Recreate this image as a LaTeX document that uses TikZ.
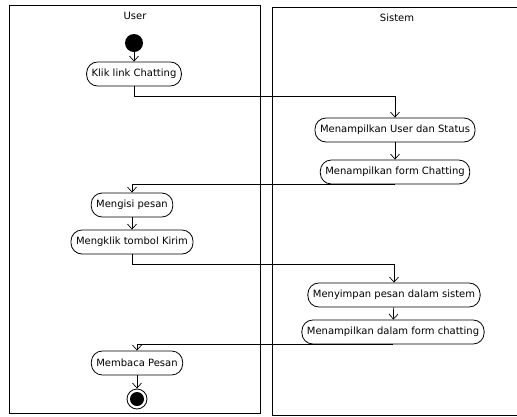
\documentclass[tikz,border=0pt]{standalone}
\usepackage{fontspec}
\setsansfont{DejaVu Sans}
\usetikzlibrary{arrows.meta}

\begin{document}
\begin{tikzpicture}[x=1pt,y=-1pt,
    act/.style={draw,line width=.8pt,rounded corners=11pt,minimum height=24pt,inner xsep=5pt,
      font=\sffamily\fontsize{10}{12}\selectfont},
    lanetitle/.style={font=\sffamily\fontsize{10}{12}\selectfont},
    flow/.style={-{Straight Barb[length=5pt,width=9pt]},line width=.7pt},
    lane/.style={line width=1pt},
    start/.style={circle,fill=black,minimum size=18pt,inner sep=0pt},
    stop/.style={circle,draw,line width=.8pt,minimum size=20pt,inner sep=0pt}]
  \useasboundingbox (0,0) rectangle (517,416);
  % swimlanes
  \draw[lane] (9,5) rectangle (260,413);
  \draw[lane] (517,7) -- (272,7) -- (272,415) -- (517,415);
  \node[lanetitle] (user) at (135,16) {User};
  \node[lanetitle] (sistem) at (397,18) {Sistem};

  % User
  \node[start] (mulai) at (134,43) {};
  \node[act] (klik) at (134,74) {Klik link Chatting};
  \node[act] (isi) at (132,205) {Mengisi pesan};
  \node[act] (kirim) at (132,242) {Mengklik tombol Kirim};
  \node[act] (baca) at (137,363) {Membaca Pesan};
  \node[stop] (selesai) at (137,399) {};
  \fill (selesai.center) circle (7pt);

  % Sistem
  \node[act] (tampil) at (395,130) {Menampilkan User dan Status};
  \node[act] (form) at (395,172) {Menampilkan form Chatting};
  \node[act] (simpan) at (394,295) {Menyimpan pesan dalam sistem};
  \node[act] (tampilpesan) at (393,332) {Menampilkan dalam form chatting};

  \draw[flow] (mulai) -- (klik);
  \draw[flow] (klik.south) -- ++(0,10) -| (tampil.north);
  \draw[flow] (tampil) -- (form);
  \draw[flow] (form.south) -| (isi.north);
  \draw[flow] (isi) -- (kirim);
  \draw[flow] (kirim.south) -- ++(0,10) -| (simpan.north);
  \draw[flow] (simpan) -- (tampilpesan);
  \draw[flow] (tampilpesan.south) -| (baca.north);
  \draw[flow] (baca) -- (selesai);
\end{tikzpicture}
\end{document}
